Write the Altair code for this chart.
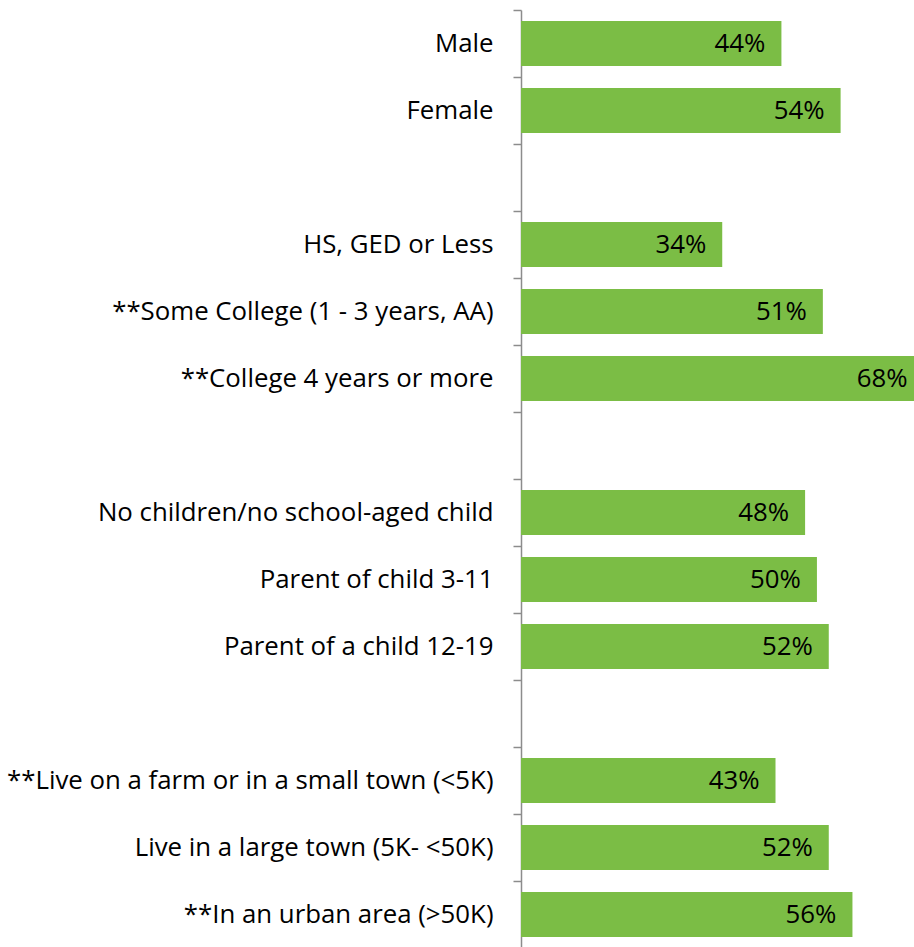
import altair as alt
import pandas as pd

categories = [
    "Male", "Female", " ",
    "HS, GED or Less", "**Some College (1 - 3 years, AA)", "**College 4 years or more", "  ",
    "No children/no school-aged child", "Parent of child 3-11", "Parent of a child 12-19", "   ",
    "**Live on a farm or in a small town (<5K)", "Live in a large town (5K- <50K)", "**In an urban area (>50K)",
]
values = [44, 54, None, 34, 51, 68, None, 48, 50, 52, None, 43, 52, 56]
labels = ["44%", "54%", "", "34%", "51%", "68%", "", "48%", "50%", "52%", "", "43%", "52%", "56%"]

df = pd.DataFrame({"category": categories, "value": values, "label": labels})

FONT = "Open Sans"
FS = 25.8

y_enc = alt.Y(
    "category:N",
    sort=categories,
    title=None,
    scale=alt.Scale(domain=categories, paddingInner=0, paddingOuter=0),
    axis=alt.Axis(
        tickBand="extent",
        tickSize=8,
        tickColor="#8c8c8c",
        tickWidth=1.5,
        domainColor="#8c8c8c",
        domainWidth=1.5,
        labelPadding=20,
        labelFont=FONT,
        labelFontSize=FS,
        labelColor="#000000",
        labelLimit=600,
        grid=False,
    ),
)
x_enc = alt.X(
    "value:Q",
    title=None,
    scale=alt.Scale(domain=[0, 66.4], nice=False),
    axis=None,
)

base = alt.Chart(df).transform_filter("datum.value != null")

bars = base.mark_bar(color="#7BBD45", clip=True, height={"band": 0.67}).encode(x=x_enc, y=y_enc)
text = base.mark_text(
    align="right", baseline="middle", dx=-16, font=FONT, fontSize=FS, color="#000000"
).encode(
    x=alt.X("value:Q", axis=None),
    y=alt.Y("category:N", sort=categories),
    text="label:N",
)

chart = (
    alt.layer(bars, text)
    .properties(
        width=393,
        height=938,
        padding={"left": 521, "top": 10, "right": 0, "bottom": 0},
        autosize=alt.AutoSizeParams(type="none"),
        background="white",
    )
    .configure_view(strokeWidth=0, stroke="transparent")
    .configure_axis(grid=False)
)

chart.save("out.html", embed_options={"renderer": "svg", "actions": False})
